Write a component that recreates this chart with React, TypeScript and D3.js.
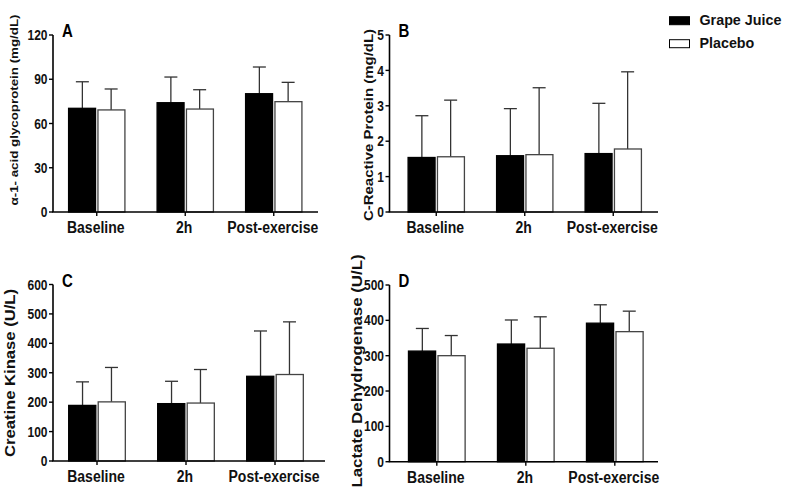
import React from "react";
import * as d3 from "d3";

const categories = ["Baseline", "2h", "Post-exercise"];
const seriesNames = ["Grape Juice", "Placebo"];
const seriesFill = ["#000000", "#ffffff"];

// Panel A: alpha-1 acid glycoprotein
const aGrape = [70.3, 74.1, 80.2];
const aGrapeErr = [88.3, 91.5, 98.3];
const aPlacebo = [69.2, 69.8, 74.8];
const aPlaceboErr = [83.4, 82.9, 87.9];
const aTicks = [0, 30, 60, 90, 120];

// Panel B: C-reactive protein
const bGrape = [1.54, 1.59, 1.65];
const bGrapeErr = [2.72, 2.92, 3.07];
const bPlacebo = [1.56, 1.62, 1.78];
const bPlaceboErr = [3.16, 3.51, 3.96];
const bTicks = [0, 1, 2, 3, 4, 5];

// Panel C: creatine kinase
const cGrape = [189, 195, 288];
const cGrapeErr = [269, 271, 442];
const cPlacebo = [201, 197, 294];
const cPlaceboErr = [318, 311, 473];
const cTicks = [0, 100, 200, 300, 400, 500, 600];

// Panel D: lactate dehydrogenase
const dGrape = [313, 333, 392];
const dGrapeErr = [377, 401, 444];
const dPlacebo = [300, 321, 368];
const dPlaceboErr = [357, 410, 426];
const dTicks = [0, 100, 200, 300, 400, 500];

const FONT = "'Liberation Sans', Arial, Helvetica, sans-serif";
const SY = 1.18;

type PanelProps = {
  letter: string;
  title: string;
  titleSize: number;
  titleX: number;
  titleY: number;
  axisX: number;
  axisEnd: number;
  bandStart: number;
  bandEnd: number;
  yTop: number;
  yZero: number;
  ticks: number[];
  means: number[][];
  errs: number[][];
};

function Panel(p: PanelProps) {
  const maxV = p.ticks[p.ticks.length - 1];
  const y = d3.scaleLinear().domain([0, maxV]).range([p.yZero, p.yTop]);
  const x = d3
    .scaleBand<string>()
    .domain(categories)
    .range([p.bandStart, p.bandEnd])
    .paddingInner(0.35)
    .paddingOuter(0.175);
  const xs = d3
    .scaleBand<string>()
    .domain(seriesNames)
    .range([0, x.bandwidth()])
    .padding(0);
  const bw = xs.bandwidth();
  return (
    <g>
      {categories.map((c, ci) =>
        seriesNames.map((s, si) => {
          const x0 = (x(c) as number) + (xs(s) as number);
          const v = p.means[si][ci];
          const e = p.errs[si][ci];
          const cx = x0 + bw / 2;
          return (
            <g key={c + s}>
              <line x1={cx} x2={cx} y1={y(v)} y2={y(e)} stroke="#333" strokeWidth={1.3} />
              <line x1={cx - 6.5} x2={cx + 6.5} y1={y(e)} y2={y(e)} stroke="#333" strokeWidth={1.3} />
              <rect
                x={x0 + (si === 0 ? 0.6 : 1.2)}
                y={y(v)}
                width={bw - 1.8}
                height={y(0) - y(v)}
                fill={seriesFill[si]}
                stroke={si === 0 ? "#000" : "#444"}
                strokeWidth={1.3}
              />
            </g>
          );
        })
      )}
      {/* y axis */}
      <line x1={p.axisX} x2={p.axisX} y1={p.yTop} y2={p.yZero} stroke="#000" strokeWidth={1.6} />
      {p.ticks.map((t) => (
        <g key={t}>
          <line x1={p.axisX - 4} x2={p.axisX} y1={y(t)} y2={y(t)} stroke="#000" strokeWidth={1.4} />
          <g transform={`translate(${p.axisX - 5.5},${y(t)}) scale(1,${SY})`}>
            <text
              x={0}
              y={0}
              dy="0.36em"
              textAnchor="end"
              fontFamily={FONT}
              fontWeight="bold"
              fontSize={12}
              fill="#111"
            >
              {t}
            </text>
          </g>
        </g>
      ))}
      {/* x axis */}
      <line x1={p.axisX - 0.8} x2={p.axisEnd} y1={p.yZero} y2={p.yZero} stroke="#000" strokeWidth={1.6} />
      {categories.map((c) => {
        const cx = (x(c) as number) + x.bandwidth() / 2;
        return (
          <g key={c}>
            <line x1={cx} x2={cx} y1={p.yZero} y2={p.yZero + 4} stroke="#000" strokeWidth={1.4} />
            <g transform={`translate(${cx - 1},${p.yZero + 21}) scale(1,${SY})`}>
              <text
                x={0}
                y={0}
                textAnchor="middle"
                fontFamily={FONT}
                fontWeight="bold"
                fontSize={14}
                fill="#111"
              >
                {c}
              </text>
            </g>
          </g>
        );
      })}
      <g transform={`translate(${p.axisX + 9},${p.yTop + 2}) scale(1,${SY})`}>
        <text x={0} y={0} fontFamily={FONT} fontWeight="bold" fontSize={15} fill="#000">
          {p.letter}
        </text>
      </g>
      <g transform={`translate(${p.titleX},${p.titleY}) scale(1,${SY}) rotate(-90)`}>
        <text
          x={0}
          y={0}
          textAnchor="middle"
          fontFamily={FONT}
          fontWeight="bold"
          fontSize={p.titleSize}
          fill="#111"
        >
          {p.title}
        </text>
      </g>
    </g>
  );
}

export default function App() {
  return (
    <svg width={787} height={495} style={{ position: "absolute", left: 0, top: 0, background: "#fff" }}>
      <Panel
        letter="A"
        title="α-1- acid glycoprotein (mg/dL)"
        titleSize={11.3}
        titleX={17.5}
        titleY={110}
        axisX={53}
        axisEnd={318}
        bandStart={52.5}
        bandEnd={318}
        yTop={35}
        yZero={212}
        ticks={aTicks}
        means={[aGrape, aPlacebo]}
        errs={[aGrapeErr, aPlaceboErr]}
      />
      <Panel
        letter="B"
        title="C-Reactive Protein (mg/dL)"
        titleSize={12.7}
        titleX={373}
        titleY={125}
        axisX={389.5}
        axisEnd={658}
        bandStart={392}
        bandEnd={657.5}
        yTop={35}
        yZero={212}
        ticks={bTicks}
        means={[bGrape, bPlacebo]}
        errs={[bGrapeErr, bPlaceboErr]}
      />
      <Panel
        letter="C"
        title="Creatine Kinase (U/L)"
        titleSize={14.1}
        titleX={15}
        titleY={373}
        axisX={53}
        axisEnd={325}
        bandStart={52.5}
        bandEnd={319.5}
        yTop={284.5}
        yZero={461}
        ticks={cTicks}
        means={[cGrape, cPlacebo]}
        errs={[cGrapeErr, cPlaceboErr]}
      />
      <Panel
        letter="D"
        title="Lactate Dehydrogenase (U/L)"
        titleSize={14.3}
        titleX={361.5}
        titleY={371}
        axisX={389.5}
        axisEnd={658}
        bandStart={392.3}
        bandEnd={659.3}
        yTop={285}
        yZero={461.7}
        ticks={dTicks}
        means={[dGrape, dPlacebo]}
        errs={[dGrapeErr, dPlaceboErr]}
      />
      {/* legend */}
      {seriesNames.map((s, i) => (
        <g key={s} transform={`translate(669.5,${16.7 + i * 23})`}>
          <rect x={0} y={0} width={20} height={8} fill={seriesFill[i]} stroke="#000" strokeWidth={1} />
          <g transform={`translate(30,8.5) scale(1,1.08)`}>
            <text x={0} y={0} fontFamily={FONT} fontWeight="bold" fontSize={14.3} fill="#111">
              {s}
            </text>
          </g>
        </g>
      ))}
    </svg>
  );
}
